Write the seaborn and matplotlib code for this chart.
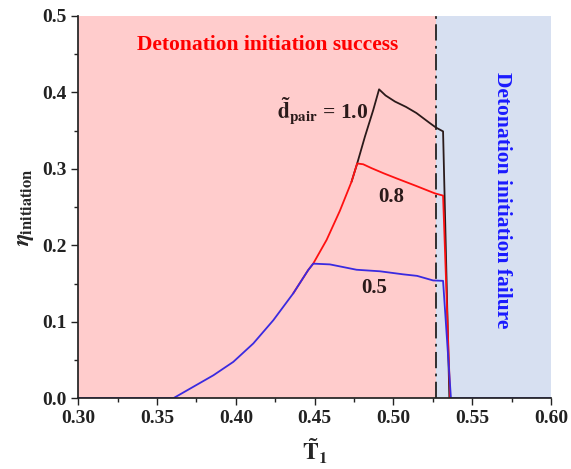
import pandas as pd
import seaborn as sns
import matplotlib.pyplot as plt
from matplotlib.ticker import MultipleLocator

# dados lidos do grafico
# trecho comum (ate o pico da curva azul)
x_subida = [0.30, 0.3604, 0.3731, 0.3858, 0.3984, 0.4111, 0.4238, 0.4364, 0.4459, 0.4491]
y_subida = [0.0, 0.0, 0.015, 0.030, 0.0475, 0.0716, 0.102, 0.137, 0.1675, 0.176]

# d_pair = 0.5
x_azul = [0.4597, 0.4766, 0.4914, 0.5062, 0.5150, 0.5252, 0.5315, 0.5365, 0.60]
y_azul = [0.175, 0.168, 0.166, 0.162, 0.160, 0.154, 0.1535, 0.0, 0.0]

# d_pair = 0.8
x_verm = [0.4576, 0.466, 0.4734, 0.477, 0.4808, 0.486, 0.494, 0.502, 0.5146, 0.5262, 0.5315, 0.536]
y_verm = [0.207, 0.245, 0.283, 0.307, 0.306, 0.301, 0.294, 0.2875, 0.2775, 0.268, 0.265, 0.0]

# d_pair = 1.0
x_preto = [0.4819, 0.4872, 0.4909, 0.495, 0.501, 0.508, 0.5146, 0.523, 0.527, 0.5315, 0.5355]
y_preto = [0.342, 0.377, 0.404, 0.396, 0.388, 0.381, 0.373, 0.360, 0.354, 0.349, 0.0]

limite = 0.527

sns.set_theme(style='ticks')
plt.rcParams['font.family'] = ['Liberation Serif', 'DejaVu Serif']
plt.rcParams['font.weight'] = 'bold'
plt.rcParams['mathtext.fontset'] = 'stix'

azul = pd.DataFrame({'x': x_subida + x_azul, 'y': y_subida + y_azul})
verm = pd.DataFrame({'x': x_subida[-3:] + x_verm, 'y': y_subida[-3:] + y_verm})
preto = pd.DataFrame({'x': x_verm[2:4] + x_preto, 'y': y_verm[2:4] + y_preto})

fig, ax = plt.subplots(figsize=(5.71, 4.69), dpi=100)
fig.subplots_adjust(left=0.137, right=0.965, bottom=0.151, top=0.966)

ax.axvspan(0.30, limite, color='#ffcccc', lw=0)
ax.axvspan(limite, 0.60, color='#d7e0f1', lw=0)
ax.axvline(limite, color='#222222', lw=1.3, ls=(0, (9, 3, 1.5, 3)))

sns.lineplot(data=preto, x='x', y='y', color='#2a1a1a', lw=1.3, sort=False, ax=ax)
sns.lineplot(data=verm, x='x', y='y', color='#ff1010', lw=1.3, sort=False, ax=ax)
sns.lineplot(data=azul, x='x', y='y', color='#3a2ae0', lw=1.3, sort=False, ax=ax)

ax.set_xlim(0.30, 0.60)
ax.set_ylim(0.0, 0.5)
ax.xaxis.set_major_locator(MultipleLocator(0.05))
ax.xaxis.set_minor_locator(MultipleLocator(0.025))
ax.yaxis.set_major_locator(MultipleLocator(0.1))
ax.yaxis.set_minor_locator(MultipleLocator(0.05))
ax.xaxis.set_major_formatter(lambda v, p: f'{v:.2f}')
ax.yaxis.set_major_formatter(lambda v, p: f'{v:.1f}')
ax.tick_params(which='major', length=5, width=1, labelsize=14, colors='#222222')
ax.tick_params(which='minor', length=3, width=1, colors='#222222')
for lab in ax.get_xticklabels() + ax.get_yticklabels():
    lab.set_fontweight('bold')
sns.despine(ax=ax)
for s in ['left', 'bottom']:
    ax.spines[s].set_color('#222222')

ax.set_xlabel(r'$\mathbf{\tilde{T}_1}$', fontsize=17, labelpad=7)
ax.set_ylabel(r'$\eta_{\mathbf{initiation}}$', fontsize=17, labelpad=4)

ax.text(0.420, 0.462, 'Detonation initiation success', color='#ff0000',
        fontsize=15.5, fontweight='bold', ha='center', va='center')
ax.text(0.569, 0.259, 'Detonation initiation failure', color='#1a1aff',
        fontsize=15.5, fontweight='bold', ha='center', va='center', rotation=-90)
ax.text(0.455, 0.375, r'$\mathbf{\tilde{d}_{pair}}$ = 1.0', color='#2a1a1a',
        fontsize=15.5, fontweight='bold', ha='center', va='center')
ax.text(0.4984, 0.2635, '0.8', color='#2a1a1a', fontsize=15, fontweight='bold',
        ha='center', va='center')
ax.text(0.4878, 0.1436, '0.5', color='#2a1a1a', fontsize=15, fontweight='bold',
        ha='center', va='center')

plt.savefig('out.png', dpi=100)
